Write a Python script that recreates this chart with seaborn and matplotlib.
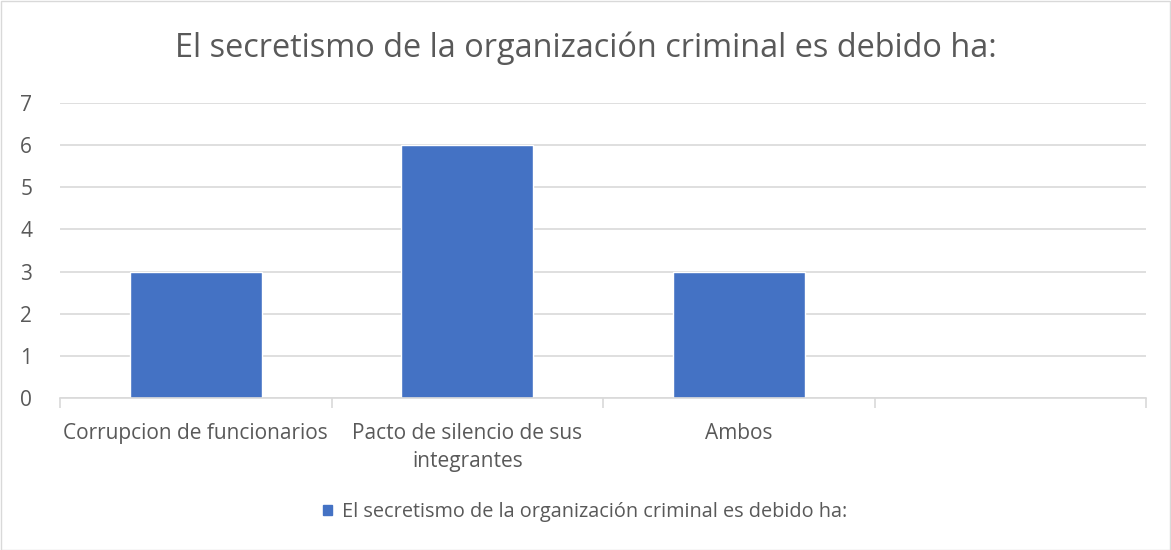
import matplotlib
matplotlib.use("Agg")
import matplotlib.pyplot as plt
import seaborn as sns
import pandas as pd
import numpy as np
from matplotlib.patches import Rectangle

categories = ["Corrupcion de funcionarios", "Pacto de silencio de sus\nintegrantes", "Ambos", ""]
values = [3, 6, 3, np.nan]
series_name = "El secretismo de la organización criminal es debido ha:"
y_ticks = [0, 1, 2, 3, 4, 5, 6, 7]

sns.set_theme(style="white")
plt.rcParams['font.family'] = ['Open Sans', 'DejaVu Sans']

df = pd.DataFrame({"cat": categories, "val": values, "serie": [series_name] * len(categories)})

fig = plt.figure(figsize=(11.71, 5.5), dpi=100)
ax = fig.add_axes([60 / 1171, 1 - 398 / 550, (1146 - 60) / 1171, (398 - 103) / 550])

sns.barplot(data=df, x="cat", y="val", hue="serie", palette=["#4472C4"], width=0.486,
            ax=ax, legend=False, saturation=1, order=categories)

ax.set_ylim(0, 7)
ax.set_xlim(-0.5, 3.5)
ax.set_yticks(y_ticks)
ax.set_yticklabels([str(t) for t in y_ticks])
ax.yaxis.grid(True, color="#d9d9d9", linewidth=1.2)
ax.set_axisbelow(True)
for s in ["top", "right", "left"]:
    ax.spines[s].set_visible(False)
ax.spines["bottom"].set_color("#d9d9d9")
ax.spines["bottom"].set_linewidth(1.2)
ax.set_xlabel("")
ax.set_ylabel("")
ax.tick_params(axis="y", length=0, labelsize=15, labelcolor="#595959", pad=20)
ax.tick_params(axis="x", which="major", length=0, labelsize=15, labelcolor="#595959", pad=18)
for lbl in ax.get_xticklabels():
    lbl.set_linespacing(1.45)
ax.set_xticks(np.arange(-0.5, 3.6, 1.0), minor=True)
ax.tick_params(axis="x", which="minor", bottom=True, length=7, width=1.2, color="#d9d9d9")

fig.text(0.5, 1 - 48 / 550, series_name, ha="center", va="center", fontsize=23.4, color="#595959")

handle = Rectangle((0, 0), 1, 1, color="#4472C4")
fig.legend([handle], [series_name], loc="center", bbox_to_anchor=(0.5, 1 - 512 / 550),
           frameon=False, fontsize=14.3, labelcolor="#595959", handlelength=0.45, handleheight=0.45,
           handletextpad=0.5)

fig.add_artist(Rectangle((0.5 / 1171, 0.5 / 550), 1 - 1.5 / 1171, 1 - 1.5 / 550, transform=fig.transFigure,
                         fill=False, edgecolor="#d9d9d9", linewidth=1))

fig.savefig("out.png", dpi=100, facecolor="white")
